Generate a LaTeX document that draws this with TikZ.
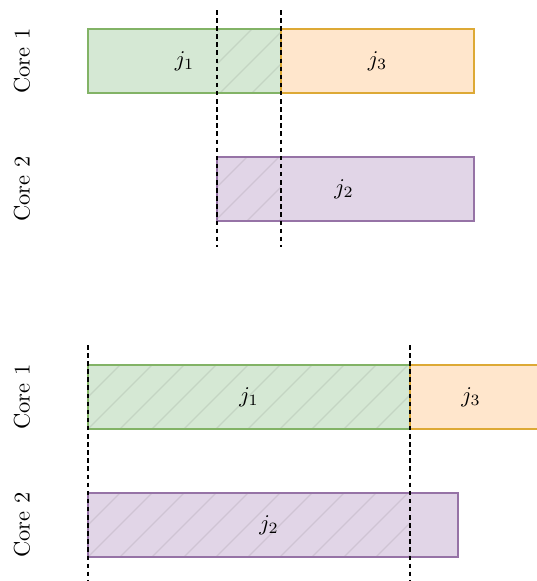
\documentclass[tikz,border=0pt]{standalone}
\definecolor{gfill}{HTML}{D5E8D4}
\definecolor{gline}{HTML}{82B366}
\definecolor{ofill}{HTML}{FFE6CC}
\definecolor{oline}{HTML}{DDA935}
\definecolor{pfill}{HTML}{E1D5E7}
\definecolor{pline}{HTML}{9673A6}
\tikzset{
  task/.style={line width=1.1pt},
  gtask/.style={task, draw=gline},
  otask/.style={task, draw=oline},
  ptask/.style={task, draw=pline},
  hatchline/.style={draw=black, opacity=0.08, line width=0.6pt},
  cut/.style={draw=black, line width=0.8pt, dash pattern=on 2pt off 1.6pt},
  corelabel/.style={rotate=90, inner sep=0pt},
  joblabel/.style={inner sep=0pt},
}
% hatched strip: corners of the region, then the first diagonal offset
\newcommand{\hatchstrip}[5]{%
  \begin{scope}
    \clip (#1,#2) rectangle (#3,#4);
    \pgfmathtruncatemacro{\cfirst}{#5}
    \pgfmathtruncatemacro{\csecond}{#5+32}
    \pgfmathtruncatemacro{\clast}{#3+#4+32}
    \foreach \c in {\cfirst,\csecond,...,\clast}
      \draw[hatchline] ({\c-#4},#4) -- ({\c-#2},#2);
  \end{scope}}
\begin{document}
\begin{tikzpicture}[x=0.015625cm, y=-0.015625cm]
\useasboundingbox (0,0) rectangle (537,581);

% ---- upper schedule ----
\fill[gfill] (88,29) rectangle (281,93);
\fill[ofill] (281,29) rectangle (474,93);
\fill[pfill] (217,157) rectangle (474,221);
\hatchstrip{217}{29}{281}{93}{249}
\hatchstrip{217}{157}{281}{221}{372}
\draw[gtask] (88,29) rectangle (281,93);
\draw[otask] (281,29) rectangle (474,93);
\draw[ptask] (217,157) rectangle (474,221);

\coordinate (ua-top) at (217,10);
\coordinate (ua-bot) at (217,247);
\coordinate (ub-top) at (281,10);
\coordinate (ub-bot) at (281,247);
\draw[cut] (ua-top) -- (ua-bot);
\draw[cut] (ub-top) -- (ub-bot);

\node[joblabel] (u-j1) at (184.5,61) {$j_1$};
\node[joblabel] (u-j3) at (377.5,61) {$j_3$};
\node[joblabel] (u-j2) at (344,189) {$j_2$};
\node[corelabel] (u-core1) at (22,61) {Core 1};
\node[corelabel] (u-core2) at (22,189) {Core 2};

% ---- lower schedule ----
\fill[gfill] (88,365) rectangle (410,429);
\fill[ofill] (410,365) rectangle (545,429);
\fill[pfill] (88,493) rectangle (458,557);
\hatchstrip{88}{365}{410}{429}{453}
\hatchstrip{88}{493}{410}{557}{581}
\draw[gtask] (88,365) rectangle (410,429);
\draw[otask] (410,365) rectangle (545,429);
\draw[ptask] (88,493) rectangle (458,557);

\coordinate (la-top) at (88,345);
\coordinate (la-bot) at (88,585);
\coordinate (lb-top) at (410,345);
\coordinate (lb-bot) at (410,585);
\draw[cut] (la-top) -- (la-bot);
\draw[cut] (lb-top) -- (lb-bot);

\node[joblabel] (l-j1) at (249,397) {$j_1$};
\node[joblabel] (l-j3) at (471,397) {$j_3$};
\node[joblabel] (l-j2) at (269,525) {$j_2$};
\node[corelabel] (l-core1) at (22,397) {Core 1};
\node[corelabel] (l-core2) at (22,525) {Core 2};
\end{tikzpicture}
\end{document}
